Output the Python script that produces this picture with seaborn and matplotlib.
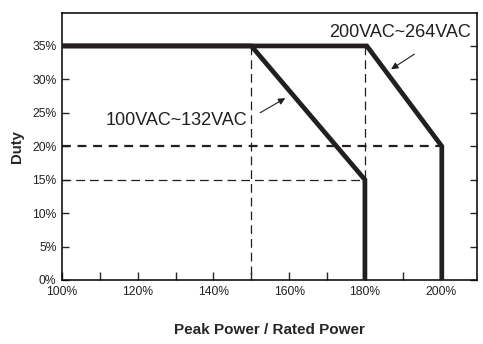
import matplotlib
matplotlib.use("Agg")
import matplotlib.pyplot as plt
import seaborn as sns
import pandas as pd

# Data
low_x = [100, 150, 180, 180]
low_y = [35, 35, 15, 0]
high_x = [100, 180.5, 200.3, 200.3]
high_y = [35, 35, 20, 0]
series_names = ["100VAC~132VAC", "200VAC~264VAC"]
x_ticks = [100, 120, 140, 160, 180, 200]
y_ticks = [0, 5, 10, 15, 20, 25, 30, 35]

sns.set_style("white")
plt.rcParams['font.family'] = ['Liberation Sans', 'DejaVu Sans']

fig = plt.figure(figsize=(4.83, 3.44), dpi=100)
ax = fig.add_axes([62/483, 1-280/344, (477-62)/483, (280-12.5)/344])

df = pd.concat([
    pd.DataFrame({"x": low_x, "y": low_y, "s": series_names[0], "o": range(len(low_x))}),
    pd.DataFrame({"x": high_x, "y": high_y, "s": series_names[1], "o": range(len(high_x))}),
])

ink = "#231f20"
# reference dashed lines
ax.plot([150, 150], [35, 0], ls=(0, (7, 4)), lw=0.9, color=ink, zorder=1)
ax.plot([180, 180], [35, 15], ls=(0, (7, 4)), lw=0.9, color=ink, zorder=1)
ax.plot([100, 180], [15, 15], ls=(0, (7, 4)), lw=0.9, color=ink, zorder=1)
ax.plot([100, 200.3], [20, 20], ls=(0, (4, 3)), lw=1.6, color=ink, zorder=1)

sns.lineplot(data=df, x="x", y="y", hue="s", units="s", estimator=None, sort=False,
             palette=[ink, ink], lw=3.4, legend=False, ax=ax, zorder=3)
for l in ax.lines[-2:]:
    l.set_solid_joinstyle("miter")
    l.set_solid_capstyle("butt")

ax.set_xlim(100, 209.6)
ax.set_ylim(0, 40)

ax.set_xticks(range(100, 210, 10))
ax.set_xticklabels([f"{v}%" if v in x_ticks else "" for v in range(100, 210, 10)])
ax.set_yticks(y_ticks)
ax.set_yticklabels([f"{v}%" for v in y_ticks])
ax.tick_params(axis="x", direction="in", length=6, width=1, pad=4, labelsize=8.7,
               labelcolor="#222222", bottom=True)
ax.tick_params(axis="y", direction="in", length=5, width=1, pad=4, labelsize=8.7,
               labelcolor="#222222", left=True, right=True)
for s in ax.spines.values():
    s.set_linewidth(1.1)
    s.set_color("black")

ax.set_xlabel("Peak Power / Rated Power", fontsize=11, fontweight="bold", labelpad=18)
ax.set_ylabel("Duty", fontsize=10.7, fontweight="bold", labelpad=6)

ax.text(189.2, 37.0, series_names[1], fontsize=13, color=ink, ha="center", va="center")
ax.text(130.3, 23.9, series_names[0], fontsize=13, color=ink, ha="center", va="center")
ax.annotate("", xy=(186.3, 31.3), xytext=(193.7, 34.0),
            arrowprops=dict(arrowstyle="-|>", color=ink, lw=0.8, mutation_scale=10))
ax.annotate("", xy=(159.6, 27.4), xytext=(151.7, 24.8),
            arrowprops=dict(arrowstyle="-|>", color=ink, lw=0.8, mutation_scale=10))

fig.savefig("out.png", dpi=100)
